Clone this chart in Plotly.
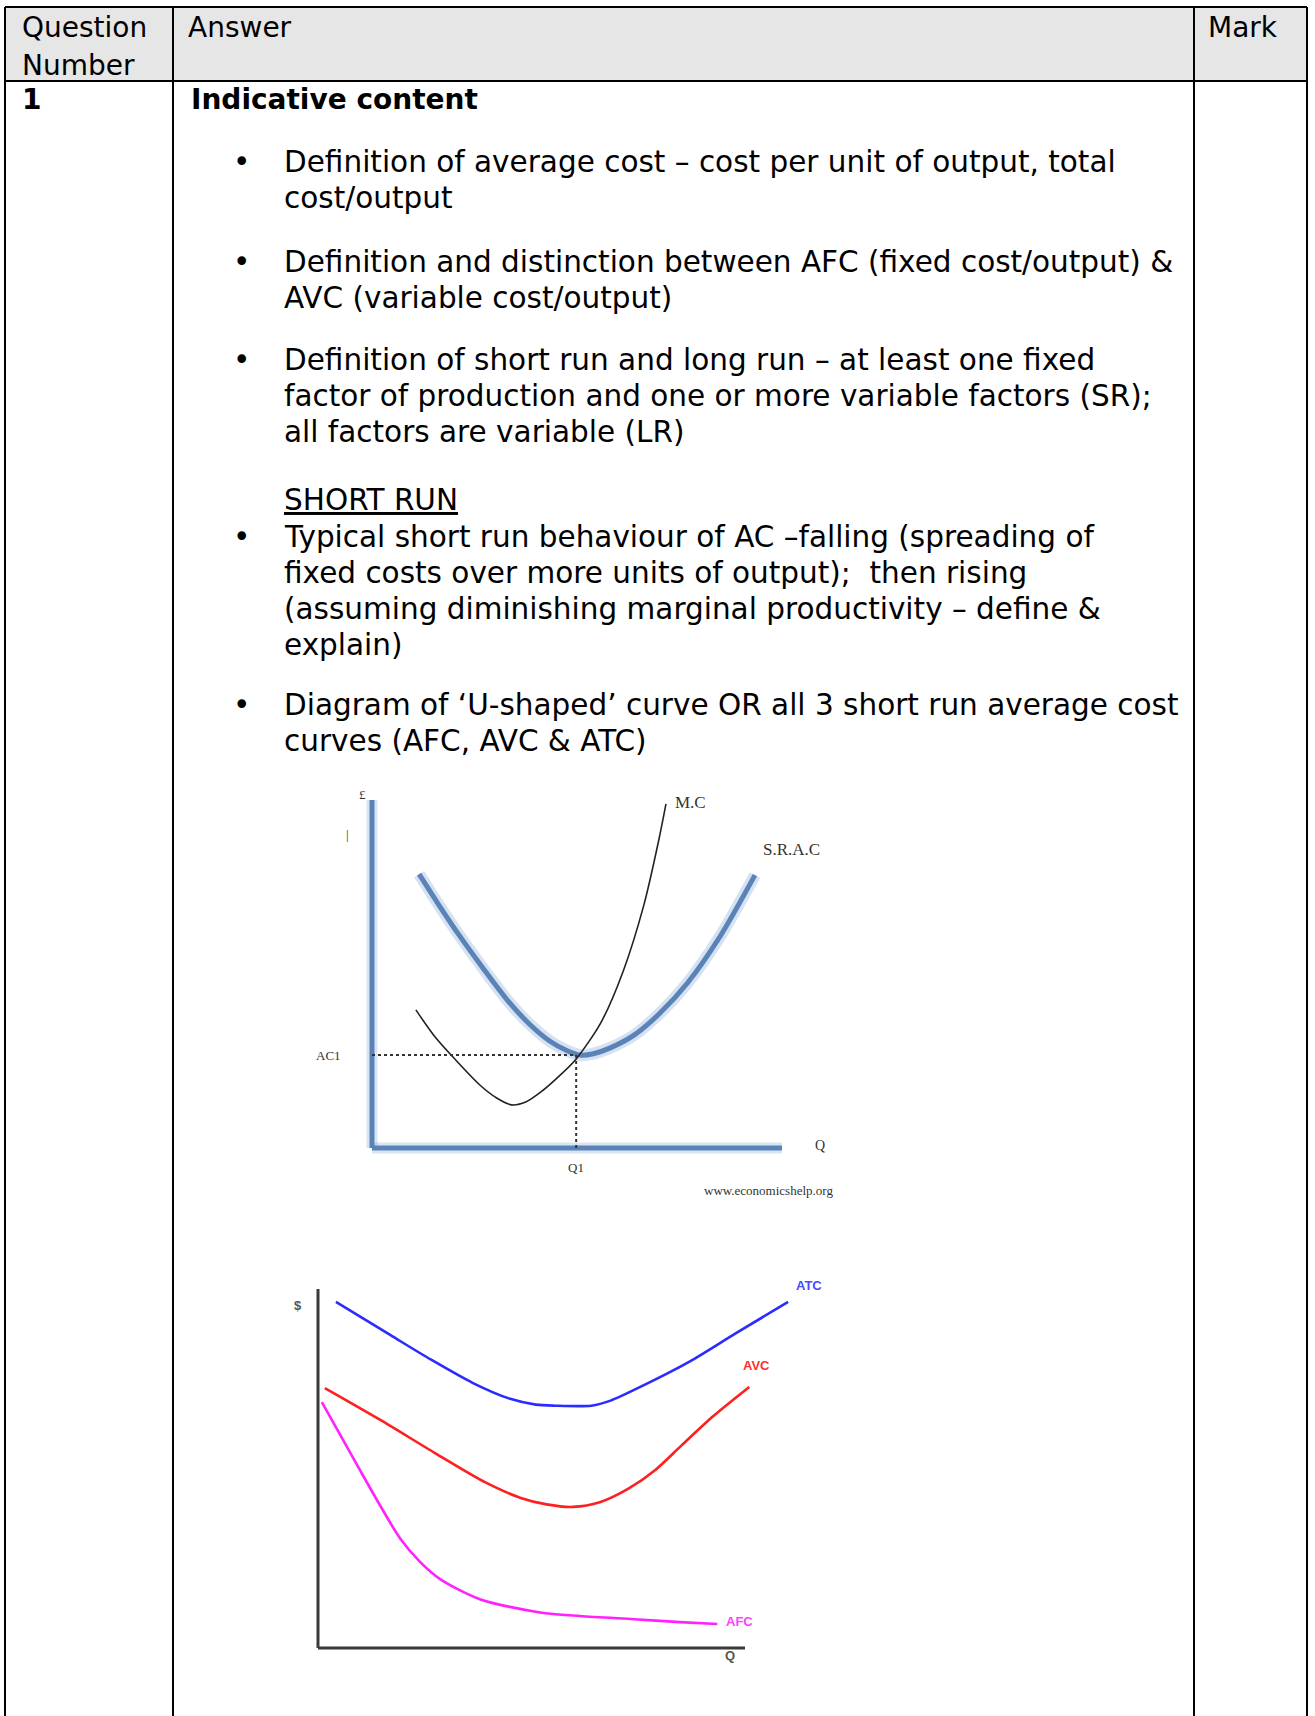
import plotly.graph_objects as go

W, H = 1315, 1716

# ---------------- data: diagram 1 (economicshelp) ----------------
srac_q = [11.5, 16.0, 21.0, 27.0, 33.0, 38.5, 43.5, 47.5, 50.7, 54.0, 58.0, 64.0, 70.0, 77.0, 85.0, 93.4]
srac_c = [78.7, 70.4, 61.6, 51.8, 42.5, 35.5, 30.6, 28.0, 26.7, 27.1, 28.7, 32.5, 38.5, 47.5, 61.0, 78.4]
mc_q = [10.7, 15.0, 19.3, 26.3, 30.5, 34.1, 37.5, 41.2, 45.5, 49.8, 55.9, 61.2, 66.3, 70.0, 71.7]
mc_c = [39.7, 32.5, 26.7, 18.1, 14.3, 12.4, 13.2, 16.1, 20.5, 25.6, 36.2, 50.6, 69.8, 88.8, 98.9]
q1 = 49.8
ac1 = 26.7

# ---------------- data: diagram 2 (ATC / AVC / AFC) ----------------
atc_q = [4.2, 16.9, 26.5, 36.3, 45.0, 51.0, 55.5, 64.0, 68.5, 76.8, 86.9, 97.9, 110.1]
atc_c = [96.4, 87.2, 80.3, 73.8, 69.4, 67.8, 67.5, 67.5, 68.9, 73.5, 79.7, 87.7, 96.4]
avc_q = [1.6, 14.5, 27.4, 39.1, 47.5, 53.5, 59.7, 66.0, 72.6, 79.0, 85.2, 92.6, 101.0]
avc_c = [72.4, 63.6, 54.3, 46.2, 41.8, 40.0, 39.3, 40.6, 44.3, 49.6, 56.5, 64.6, 72.7]
afc_q = [0.9, 9.8, 14.5, 19.2, 23.9, 28.6, 37.9, 52.0, 61.4, 74.0, 84.8, 93.5]
afc_c = [68.5, 49.6, 39.8, 30.6, 24.0, 19.2, 13.6, 9.9, 8.9, 8.0, 7.2, 6.7]
axis_max = 100

# ---------------- text ----------------
header_labels = ["Question", "Number", "Answer", "Mark"]
question_no = "1"
section_title = "Indicative content"
bullets = [
    ["Definition of average cost – cost per unit of output, total", "cost/output"],
    ["Definition and distinction between AFC (fixed cost/output) &", "AVC (variable cost/output)"],
    ["Definition of short run and long run – at least one fixed",
     "factor of production and one or more variable factors (SR);",
     "all factors are variable (LR)"],
    ["Typical short run behaviour of AC –falling (spreading of",
     "fixed costs over more units of output);\u00a0 then rising",
     "(assuming diminishing marginal productivity – define &",
     "explain)"],
    ["Diagram of ‘U-shaped’ curve OR all 3 short run average cost",
     "curves (AFC, AVC & ATC)"],
]
subheading = "SHORT RUN"

FONT = "DejaVu Sans, Verdana, sans-serif"
FS_HEAD = 28
FS = 29.5

fig = go.Figure()

layout_axes = dict(
    xaxis=dict(domain=[0, 1], range=[0, W], visible=False, fixedrange=True),
    yaxis=dict(domain=[0, 1], range=[H, 0], visible=False, fixedrange=True),
)


def dom_x(o, ppu, rng):
    return [(o + rng[0] * ppu) / W, (o + rng[1] * ppu) / W]


def dom_y(o, ppu, rng):
    return [1 - (o - rng[0] * ppu) / H, 1 - (o - rng[1] * ppu) / H]


r1x, r1y = [-15, 120], [-15, 105]
r2x, r2y = [-10, 125], [-5, 108]
layout_axes.update(
    xaxis2=dict(domain=dom_x(372, 4.1, r1x), range=r1x, anchor="y2", visible=False, fixedrange=True),
    yaxis2=dict(domain=dom_y(1148, 3.48, r1y), range=r1y, anchor="x2", visible=False, fixedrange=True),
    xaxis3=dict(domain=dom_x(318, 4.27, r2x), range=r2x, anchor="y3", visible=False, fixedrange=True),
    yaxis3=dict(domain=dom_y(1648, 3.59, r2y), range=r2y, anchor="x3", visible=False, fixedrange=True),
)

shapes = []
shapes.append(dict(type="rect", xref="x", yref="y", x0=5, x1=1307, y0=7, y1=81,
                   fillcolor="#e6e6e6", line_width=0, layer="below"))
LINE = dict(color="black", width=2)
for x0, y0, x1, y1 in [(5, 7, 1307, 7), (5, 81, 1307, 81),
                       (5, 7, 5, H), (173, 7, 173, H), (1194, 7, 1194, H), (1307, 7, 1307, H)]:
    shapes.append(dict(type="line", xref="x", yref="y", x0=x0, y0=y0, x1=x1, y1=y1, line=LINE, layer="below"))

BLUE = "#5a84b7"
for w, c in [(11, "rgba(120,160,210,0.28)"), (5, BLUE)]:
    shapes.append(dict(type="line", xref="x2", yref="y2", x0=0, y0=0, x1=0, y1=axis_max, line=dict(color=c, width=w)))
    shapes.append(dict(type="line", xref="x2", yref="y2", x0=0, y0=0, x1=axis_max, y1=0, line=dict(color=c, width=w)))
shapes.append(dict(type="line", xref="x2", yref="y2", x0=0, y0=ac1, x1=q1, y1=ac1,
                   line=dict(color="#333333", width=2, dash="dot")))
shapes.append(dict(type="line", xref="x2", yref="y2", x0=q1, y0=0, x1=q1, y1=ac1,
                   line=dict(color="#333333", width=2, dash="dot")))
for x0, y0, x1, y1 in [(0, 0, 0, axis_max), (0, 0, axis_max, 0)]:
    shapes.append(dict(type="line", xref="x3", yref="y3", x0=x0, y0=y0, x1=x1, y1=y1,
                       line=dict(color="#3a3a3a", width=3)))

fig.add_trace(go.Scatter(x=srac_q, y=srac_c, xaxis="x2", yaxis="y2", mode="lines",
                         line=dict(color="rgba(120,160,210,0.3)", width=12, shape="spline", smoothing=0.8),
                         hoverinfo="skip", showlegend=False))
fig.add_trace(go.Scatter(x=srac_q, y=srac_c, xaxis="x2", yaxis="y2", mode="lines",
                         line=dict(color=BLUE, width=5, shape="spline", smoothing=0.8),
                         hoverinfo="skip", showlegend=False))
fig.add_trace(go.Scatter(x=mc_q, y=mc_c, xaxis="x2", yaxis="y2", mode="lines",
                         line=dict(color="#222222", width=1.6, shape="spline", smoothing=0.8),
                         hoverinfo="skip", showlegend=False))
for xs, ys, col in [(atc_q, atc_c, "#2b2bff"), (avc_q, avc_c, "#ff1f1f"), (afc_q, afc_c, "#ff22ff")]:
    fig.add_trace(go.Scatter(x=xs, y=ys, xaxis="x3", yaxis="y3", mode="lines",
                             line=dict(color=col, width=2.6, shape="spline", smoothing=0.8),
                             hoverinfo="skip", showlegend=False))

ann = []


def txt(x, y, t, size=FS, bold=False, color="black", xanchor="left", family=FONT, xref="x", yref="y"):
    if bold:
        t = "<b>" + t + "</b>"
    ann.append(dict(x=x, y=y, xref=xref, yref=yref, text=t, showarrow=False,
                    xanchor=xanchor, yanchor="middle", font=dict(family=family, size=size, color=color)))


txt(20, 27, header_labels[0], size=FS_HEAD)
txt(20, 65, header_labels[1], size=FS_HEAD)
txt(186, 27, header_labels[2], size=FS_HEAD)
txt(1206, 27, header_labels[3], size=FS_HEAD)
txt(20, 99, question_no, bold=True, size=FS_HEAD)
txt(189, 99, section_title, bold=True, size=FS_HEAD)

starts = [162, 262, 360, 537, 705]
LH = 36
for start, lines in zip(starts, bullets):
    txt(241, start, "•", xanchor="center")
    for i, line in enumerate(lines):
        txt(282, start + i * LH, line)
txt(282, 500, "<u>" + subheading + "</u>")

SERIF = "Liberation Serif, Times New Roman, serif"
g1 = dict(xref="x2", yref="y2", family=SERIF, color="#333333", xanchor="center")
txt(77.8, 99.4, "M.C", size=17, **g1)
txt(102.4, 85.9, "S.R.A.C", size=17, **g1)
txt(-10.7, ac1, "AC1", size=13, **g1)
txt(109.3, 0.6, "Q", size=14, **g1)
txt(q1, -5.5, "Q1", size=13, **g1)
txt(-2.4, 101.7, "£", size=13, **g1)
txt(-5.9, 90, "|", size=13, **g1)
txt(96.6, -12.1, "www.economicshelp.org", size=13, **g1)

SANS = "Liberation Sans, Arial, sans-serif"
g2 = dict(xref="x3", yref="y3", family=SANS, xanchor="center", bold=True)
txt(115.0, 101.1, "ATC", size=13, color="#4a4aff", **g2)
txt(102.8, 78.8, "AVC", size=13, color="#ff3030", **g2)
txt(98.8, 7.5, "AFC", size=13, color="#ff40ff", **g2)
txt(-4.7, 95.5, "$", size=13, color="#555555", **g2)
txt(96.5, -2.2, "Q", size=13, color="#555555", **g2)

fig.update_layout(
    width=W, height=H, margin=dict(l=0, r=0, t=0, b=0),
    paper_bgcolor="white", plot_bgcolor="rgba(0,0,0,0)",
    shapes=shapes, annotations=ann, **layout_axes,
)

fig.write_html("out.html", config={"displayModeBar": False, "staticPlot": True},
               post_script="document.body.style.margin='0';")
